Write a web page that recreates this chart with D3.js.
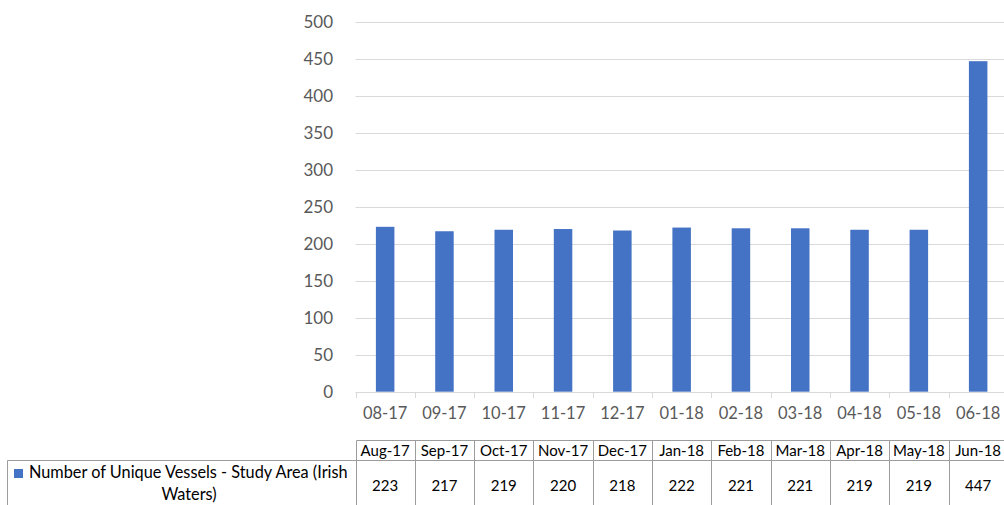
<!DOCTYPE html>
<html>
<head>
<meta charset="utf-8">
<script src="https://cdn.jsdelivr.net/npm/d3@7"></script>
<style>
  html, body { margin: 0; padding: 0; background: #fff; }
  svg { display: block; }
</style>
</head>
<body>
<svg id="chart" width="1004" height="505"></svg>
<script>
// Monthly counts of unique vessels in the study area (Irish waters)
const axisLabels = ["08-17","09-17","10-17","11-17","12-17","01-18","02-18","03-18","04-18","05-18","06-18"];
const tableLabels = ["Aug-17","Sep-17","Oct-17","Nov-17","Dec-17","Jan-18","Feb-18","Mar-18","Apr-18","May-18","Jun-18"];
const vessels = [223, 217, 219, 220, 218, 222, 221, 221, 219, 219, 447];
const yTicks = [0, 50, 100, 150, 200, 250, 300, 350, 400, 450, 500];
const seriesNameLines = ["Number of Unique Vessels - Study Area (Irish", "Waters)"];

const FONT = "Lato, 'Open Sans', sans-serif";
const svg = d3.select("#chart");

const plotLeft = 355.5, step = 59.3;
const plotRight = plotLeft + step * axisLabels.length;
const plotTop = 22, plotBottom = 391.7;

const pad = 0.688;
const x = d3.scaleBand().domain(axisLabels).range([plotLeft, plotRight])
  .paddingInner(pad).paddingOuter(pad / 2);
const y = d3.scaleLinear().domain([0, 500]).range([plotBottom, plotTop]);

// horizontal gridlines
svg.append("g").selectAll("line").data(yTicks.filter(d => d > 0)).join("line")
  .attr("x1", plotLeft).attr("x2", 1004)
  .attr("y1", d => Math.round(y(d)) + 0.5).attr("y2", d => Math.round(y(d)) + 0.5)
  .attr("stroke", "#d9d9d9").attr("stroke-width", 1);

// y axis labels
svg.append("g").selectAll("text").data(yTicks).join("text")
  .attr("x", 333).attr("y", d => y(d))
  .attr("dy", "0.35em").attr("text-anchor", "end")
  .attr("font-family", FONT).attr("font-size", 17).attr("fill", "#595959")
  .text(d => d);

// bars
svg.append("g").selectAll("rect").data(vessels).join("rect")
  .attr("x", (d, i) => x(axisLabels[i]))
  .attr("width", x.bandwidth())
  .attr("y", d => y(d))
  .attr("height", d => y(0) - y(d))
  .attr("fill", "#4472C4");

// x axis line with ticks at category boundaries
const xAxis = svg.append("g");
xAxis.append("line")
  .attr("x1", plotLeft).attr("x2", 1004)
  .attr("y1", Math.round(plotBottom) + 0.5).attr("y2", Math.round(plotBottom) + 0.5)
  .attr("stroke", "#d9d9d9");
xAxis.selectAll("line.tick").data(d3.range(axisLabels.length + 1)).join("line")
  .attr("class", "tick")
  .attr("x1", i => Math.round(plotLeft + i * step) + 0.5)
  .attr("x2", i => Math.round(plotLeft + i * step) + 0.5)
  .attr("y1", Math.round(plotBottom)).attr("y2", Math.round(plotBottom) + 6)
  .attr("stroke", "#d9d9d9");
xAxis.selectAll("text").data(axisLabels).join("text")
  .attr("x", d => x(d) + x.bandwidth() / 2)
  .attr("y", 419)
  .attr("text-anchor", "middle")
  .attr("font-family", FONT).attr("font-size", 16.5).attr("fill", "#595959")
  .text(d => d);

// data table under the axis
const tbl = svg.append("g");
const hTop = 440.5, hBot = 460.5, vBot = 520;
const border = "#9c9c9c";
const colX = i => Math.round(plotLeft + i * step) + 0.5;

tbl.append("line").attr("x1", colX(0)).attr("x2", 1004)
  .attr("y1", hTop).attr("y2", hTop).attr("stroke", border);
tbl.append("line").attr("x1", 7.5).attr("x2", 1004)
  .attr("y1", hBot).attr("y2", hBot).attr("stroke", border);
tbl.append("line").attr("x1", 7.5).attr("x2", 7.5)
  .attr("y1", hBot).attr("y2", vBot).attr("stroke", border);
tbl.selectAll("line.col").data(d3.range(tableLabels.length + 1)).join("line")
  .attr("class", "col")
  .attr("x1", colX).attr("x2", colX)
  .attr("y1", hTop).attr("y2", vBot).attr("stroke", border);

tbl.selectAll("text.head").data(tableLabels).join("text")
  .attr("class", "head")
  .attr("x", (d, i) => plotLeft + (i + 0.5) * step)
  .attr("y", 456)
  .attr("text-anchor", "middle")
  .attr("font-family", FONT).attr("font-size", 15).attr("fill", "#000")
  .text(d => d);

tbl.selectAll("text.val").data(vessels).join("text")
  .attr("class", "val")
  .attr("x", (d, i) => plotLeft + (i + 0.5) * step)
  .attr("y", 491)
  .attr("text-anchor", "middle")
  .attr("font-family", FONT).attr("font-size", 15).attr("fill", "#000")
  .text(d => d);

// legend key and wrapped series name
tbl.append("rect").attr("x", 14).attr("y", 469).attr("width", 9).attr("height", 9)
  .attr("fill", "#4472C4");
tbl.append("text")
  .attr("x", 29).attr("y", 478)
  .attr("font-family", FONT).attr("font-size", 16.3).attr("fill", "#000")
  .text(seriesNameLines[0]);
tbl.append("text")
  .attr("x", 189).attr("y", 500)
  .attr("text-anchor", "middle")
  .attr("font-family", FONT).attr("font-size", 16.3).attr("fill", "#000")
  .text(seriesNameLines[1]);
</script>
</body>
</html>
